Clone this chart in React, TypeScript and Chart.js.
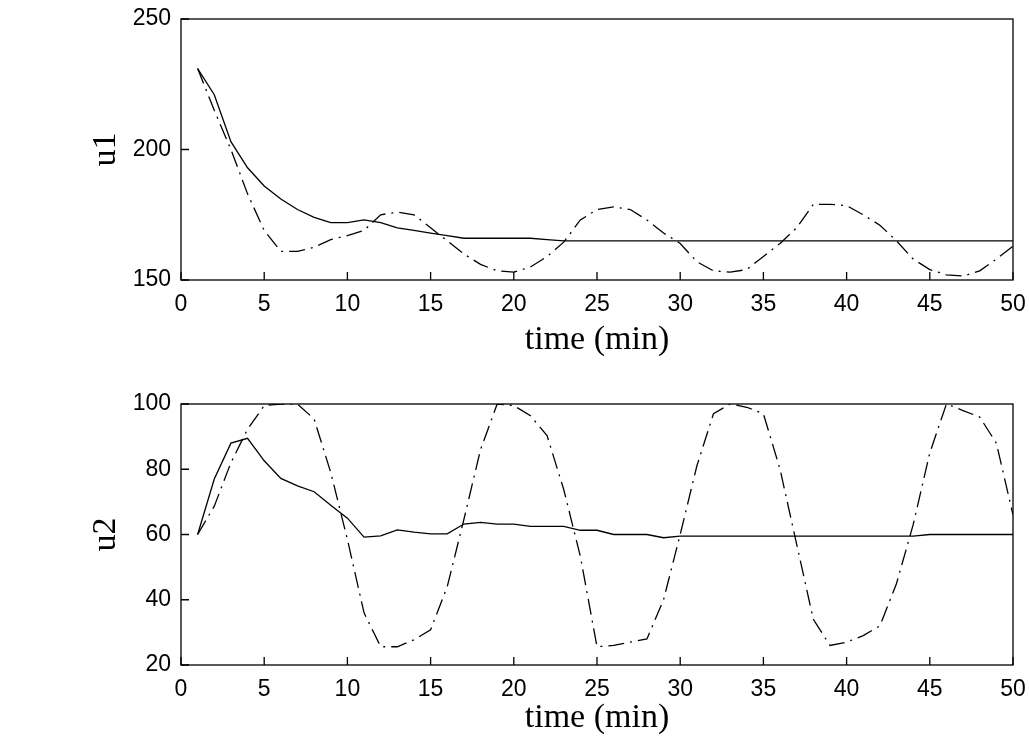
import { useEffect, useRef } from 'react';
import { Chart, registerables } from 'chart.js';

Chart.register(...registerables);

const time = Array.from({ length: 50 }, (_, i) => i + 1);

const u1Solid = [231, 221, 203, 193, 186, 181, 177, 174, 172, 172, 173, 172, 170, 169, 168, 167, 166, 166, 166, 166,
  166, 165.5, 165, 165, 165, 165, 165, 165, 165, 165, 165, 165, 165, 165, 165, 165, 165, 165, 165, 165,
  165, 165, 165, 165, 165, 165, 165, 165, 165, 165];
const u1Dashed = [231, 215, 200, 183, 169, 161, 161, 162.5, 165.5, 167, 169, 175, 176, 175, 170, 165, 160, 156, 153.5, 153,
  155, 159, 164.5, 173, 177, 178, 177, 173, 168, 164, 157, 153.5, 153, 154, 159, 164, 170, 179, 179, 178.5,
  175, 171, 165, 158, 154, 152, 151.5, 153.5, 158, 163];
const u2Solid = [60, 77, 88, 89.5, 82.6, 77.2, 74.9, 73.1, 69, 65, 59.2, 59.6, 61.4, 60.7, 60.2, 60.2, 63.2, 63.7, 63.2, 63.2,
  62.5, 62.5, 62.5, 61.3, 61.3, 60, 60, 60, 59, 59.5, 59.5, 59.5, 59.5, 59.5, 59.5, 59.5, 59.5, 59.5, 59.5, 59.5,
  59.5, 59.5, 59.5, 59.5, 60, 60, 60, 60, 60, 60];
const u2Dashed = [60, 68.7, 82, 92.3, 99.5, 100, 100, 95.4, 79, 58.5, 36, 25.6, 25.6, 27.7, 30.8, 44, 64.6, 86, 100, 99.5,
  96.4, 90.3, 73.8, 53.3, 25.6, 26, 27, 28, 40, 60, 81, 97, 100, 99, 97, 80, 57, 34, 26, 27,
  29, 32, 45, 63, 85, 100, 98, 96, 88, 66];

const xTicks = [0, 5, 10, 15, 20, 25, 30, 35, 40, 45, 50];

const tickFont = { family: 'Liberation Sans, Arial', size: 23 };
const titleFont = { family: 'Liberation Serif, Times New Roman', size: 34 };

const boxPlugin = {
  id: 'box',
  afterDraw(chart: any) {
    const { ctx, chartArea: a, scales } = chart;
    ctx.save();
    ctx.strokeStyle = '#000';
    ctx.lineWidth = 1.3;
    ctx.strokeRect(a.left, a.top, a.right - a.left, a.bottom - a.top);
    ctx.beginPath();
    scales.x.ticks.forEach((t: any) => {
      const px = scales.x.getPixelForValue(t.value);
      ctx.moveTo(px, a.bottom);
      ctx.lineTo(px, a.bottom - 8);
    });
    scales.y.ticks.forEach((t: any) => {
      const py = scales.y.getPixelForValue(t.value);
      ctx.moveTo(a.left, py);
      ctx.lineTo(a.left + 8, py);
    });
    ctx.stroke();
    ctx.restore();
  },
};

function makeConfig(solid: number[], dashed: number[], yMin: number, yMax: number, step: number, label: string,
  padTop: number, xHeight: number, titleBottom: number): any {
  return {
    type: 'line',
    data: {
      labels: time,
      datasets: [
        { data: time.map((t, i) => ({ x: t, y: solid[i] })), borderColor: '#000', borderWidth: 1.3, pointRadius: 0, tension: 0 },
        { data: time.map((t, i) => ({ x: t, y: dashed[i] })), borderColor: '#000', borderWidth: 1.3, pointRadius: 0, tension: 0, borderDash: [16, 6, 2, 6] },
      ],
    },
    options: {
      responsive: false,
      animation: false,
      layout: { padding: { left: 0, right: 16, top: padTop, bottom: 0 } },
      plugins: { legend: { display: false }, tooltip: { enabled: false } },
      scales: {
        x: {
          type: 'linear', min: 0, max: 50,
          afterBuildTicks: (s: any) => { s.ticks = xTicks.map((v) => ({ value: v })); },
          ticks: { color: '#000', font: tickFont, padding: 3, maxRotation: 0 },
          grid: { display: false },
          border: { display: false },
          afterFit: (s: any) => { s.height = xHeight; s.paddingRight = 0; },
          title: { display: true, text: 'time (min)', color: '#000', font: titleFont, padding: { top: 0, bottom: titleBottom } },
        },
        y: {
          min: yMin, max: yMax,
          ticks: { stepSize: step, color: '#000', font: tickFont, padding: 2 },
          grid: { display: false },
          border: { display: false },
          afterFit: (s: any) => { s.width = 181; },
          title: { display: true, text: label, color: '#000', font: titleFont, padding: { top: 86, bottom: 0 } },
        },
      },
    },
    plugins: [boxPlugin],
  };
}

export default function App() {
  const topRef = useRef<HTMLCanvasElement>(null);
  const bottomRef = useRef<HTMLCanvasElement>(null);

  useEffect(() => {
    const c1 = new Chart(topRef.current!, makeConfig(u1Solid, u1Dashed, 150, 250, 50, 'u1', 19, 90, 10));
    const c2 = new Chart(bottomRef.current!, makeConfig(u2Solid, u2Dashed, 20, 100, 20, 'u2', 34, 74, 1));
    return () => {
      c1.destroy();
      c2.destroy();
    };
  }, []);

  return (
    <div style={{ position: 'fixed', left: 0, top: 0, width: 1029, height: 739, background: '#fff' }}>
      <canvas ref={topRef} width={1029} height={370} style={{ display: 'block' }} />
      <canvas ref={bottomRef} width={1029} height={369} style={{ display: 'block' }} />
    </div>
  );
}
